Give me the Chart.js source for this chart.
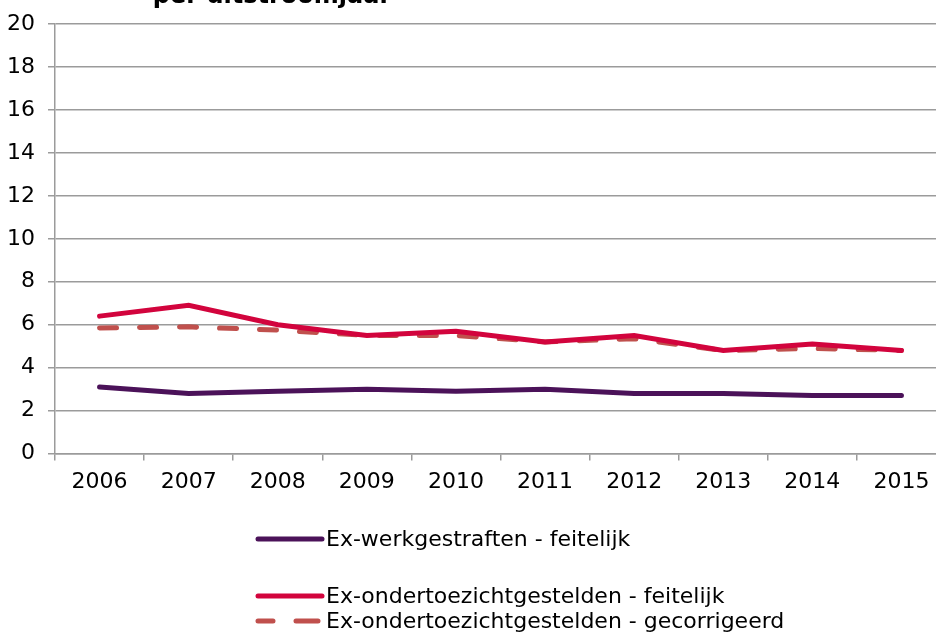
<!DOCTYPE html>
<html><head><meta charset="utf-8">
<script src="https://cdn.jsdelivr.net/npm/chart.js@4"></script>
<style>html,body{margin:0;padding:0;background:#fff;overflow:hidden;width:936px;height:634px;}#wrap{width:946px;height:634px;}</style>
</head><body><div id="wrap"><canvas id="c" width="946" height="634"></canvas></div>
<script>
const years = ['2006','2007','2008','2009','2010','2011','2012','2013','2014','2015'];
const werkFeitelijk = [3.1, 2.8, 2.9, 3.0, 2.9, 3.0, 2.8, 2.8, 2.7, 2.7];
const totFeitelijk = [6.4, 6.9, 6.0, 5.5, 5.7, 5.2, 5.5, 4.8, 5.1, 4.8];
const totGecorrigeerd = [5.85, 5.9, 5.75, 5.5, 5.5, 5.2, 5.35, 4.8, 4.9, 4.8];
const seriesNames = ['Ex-werkgestraften - feitelijk','Ex-ondertoezichtgestelden - feitelijk','Ex-ondertoezichtgestelden - gecorrigeerd'];
const titleText = 'per uitstroomjaar';
const FONT = '"DejaVu Sans", Verdana, sans-serif';

const titlePlugin = {
  id: 'cutTitle',
  afterDraw(chart) {
    const ctx = chart.ctx;
    ctx.save();
    ctx.font = 'bold 24px ' + FONT;
    ctx.fillStyle = '#000';
    ctx.textAlign = 'center';
    ctx.textBaseline = 'alphabetic';
    ctx.fillText(titleText, 272, 3);
    ctx.restore();
  }
};

const legendPlugin = {
  id: 'stackLegend',
  afterDraw(chart) {
    const ctx = chart.ctx;
    const ys = [539, 596, 621];
    ctx.save();
    ctx.font = '22px ' + FONT;
    ctx.textBaseline = 'middle';
    ctx.textAlign = 'left';
    chart.data.datasets.forEach((ds, i) => {
      const y = ys[i];
      ctx.strokeStyle = ds.borderColor;
      ctx.lineWidth = ds.borderWidth;
      ctx.lineCap = 'round';
      ctx.beginPath();
      if (ds.borderDash) {
        ctx.moveTo(258, y); ctx.lineTo(273, y);
        ctx.moveTo(296, y); ctx.lineTo(318, y);
      } else {
        ctx.moveTo(258, y); ctx.lineTo(322, y);
      }
      ctx.stroke();
      ctx.fillStyle = '#000';
      ctx.fillText(ds.label, 326, y + 1);
    });
    ctx.restore();
  }
};

new Chart(document.getElementById('c'), {
  type: 'line',
  data: {
    labels: years,
    datasets: [
      { label: seriesNames[0], data: werkFeitelijk, borderColor: '#4B1259', borderWidth: 5, pointRadius: 0, tension: 0, borderCapStyle: 'round' },
      { label: seriesNames[1], data: totFeitelijk, borderColor: '#D2043D', borderWidth: 5, pointRadius: 0, tension: 0, borderCapStyle: 'round' },
      { label: seriesNames[2], data: totGecorrigeerd, borderColor: '#C0504D', borderWidth: 5, pointRadius: 0, tension: 0, borderDash: [17, 23], borderCapStyle: 'round' }
    ]
  },
  options: {
    responsive: false,
    animation: false,
    events: [],
    layout: { padding: { top: 18, right: 0, bottom: 131, left: 7 } },
    plugins: { legend: { display: false }, tooltip: { enabled: false }, title: { display: false } },
    scales: {
      x: {
        offset: true,
        grid: { offset: true, drawOnChartArea: false, drawTicks: true, tickLength: 7, color: '#9B9B9B', lineWidth: 1.5 },
        border: { color: '#9B9B9B', width: 1.5 },
        ticks: { color: '#000', font: { family: FONT, size: 22 }, padding: 8, maxRotation: 0, autoSkip: false }
      },
      y: {
        min: 0, max: 20,
        afterFit(scale) { scale.width = 48; },
        grid: { color: '#9B9B9B', lineWidth: 1.5, tickLength: 7 },
        border: { color: '#9B9B9B', width: 1.5 },
        ticks: { stepSize: 2, color: '#000', font: { family: FONT, size: 22, lineHeight: 1.0 }, padding: 13 }
      }
    }
  },
  plugins: [titlePlugin, legendPlugin]
});
</script></body></html>
